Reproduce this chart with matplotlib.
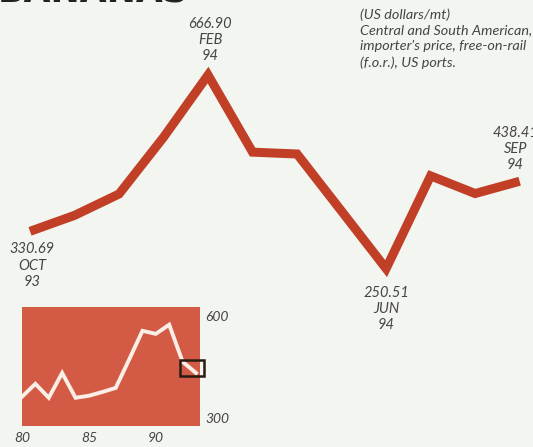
import numpy as np
import matplotlib
matplotlib.use("Agg")
import matplotlib.pyplot as plt
from matplotlib.patches import Rectangle

# monthly prices, Oct 93 - Sep 94 (US dollars/mt)
months = ["OCT", "NOV", "DEC", "JAN", "FEB", "MAR", "APR", "MAY", "JUN", "JUL", "AUG", "SEP"]
month_years = ["93", "93", "93", "94", "94", "94", "94", "94", "94", "94", "94", "94"]
prices = [330.69, 365, 411, 533, 666.90, 501, 497, 374, 250.51, 450, 412, 438.41]
labelled = [0, 4, 8, 11]  # points that carry a value label

# annual series for the small inset
years = [80, 81, 82, 83, 84, 85, 86, 87, 88, 89, 90, 91, 92, 93]
annual = [362, 400, 359, 432, 359, 365, 376, 388, 471, 556, 547, 574, 465, 432]
inset_ticks = [300, 600]
inset_xticks = [80, 85, 90]

note = "(US dollars/mt)\nCentral and South American,\nimporter's price, free-on-rail\n(f.o.r.), US ports."

bg = "#f3f6f0"
red = "#c13f27"
txt = "#454545"
font = "Lato"

fig = plt.figure(figsize=(5.33, 4.47), dpi=100, facecolor=bg)

ax = fig.add_axes([0, 0, 1, 1])
ax.set_facecolor(bg)
x = np.arange(len(prices))
ax.plot(x, prices, color=red, lw=6.5, solid_joinstyle="miter", solid_capstyle="butt")
ax.set_xlim(-0.674, 11.30)
ax.set_ylim(-133.1, 828.2)
ax.axis("off")

# label offsets in pixels
offsets = {0: (2, -11), 4: (2, 12), 8: (0, -17), 11: (-4, 9)}
for i in labelled:
    dx, dy = offsets[i]
    va = "top" if dy < 0 else "bottom"
    ax.annotate(f"{prices[i]:.2f}\n{months[i]}\n{month_years[i]}", (x[i], prices[i]),
                xytext=(dx, dy), textcoords="offset pixels",
                ha="center", va=va, fontsize=10.5, style="italic", color=txt,
                family=font, linespacing=1.2)

fig.text(360 / 533, 1 - 8 / 447, note, ha="left", va="top", fontsize=10.4,
         style="italic", color=txt, family=font, linespacing=1.38)

# title, cut off by the top edge in the original
fig.text(-0.005, 1 - 2 / 447, "BANANAS", ha="left", va="baseline", fontsize=25,
         weight="bold", color="#222222")

# inset
ins = fig.add_axes([22 / 533, 21 / 447, 178 / 533, 119 / 447])
ins.set_facecolor("#d35b45")
ins.plot(years, annual, color="#fbeee6", lw=2.8, solid_joinstyle="miter")
ins.set_xlim(80, 93.3)
ins.set_ylim(276, 626)
ins.add_patch(Rectangle((91.8, 424), 1.8, 47, fill=False, ec="#2a1a14", lw=1.8,
                        clip_on=False, zorder=5))
for s in ins.spines.values():
    s.set_visible(False)
ins.yaxis.tick_right()
ins.set_yticks(inset_ticks)
ins.set_xticks(inset_xticks)
ins.tick_params(length=0, labelsize=10, labelcolor=txt, pad=4)
for lab in ins.get_xticklabels() + ins.get_yticklabels():
    lab.set_style("italic")
    lab.set_family(font)

fig.savefig("out.png", dpi=100, facecolor=bg)
